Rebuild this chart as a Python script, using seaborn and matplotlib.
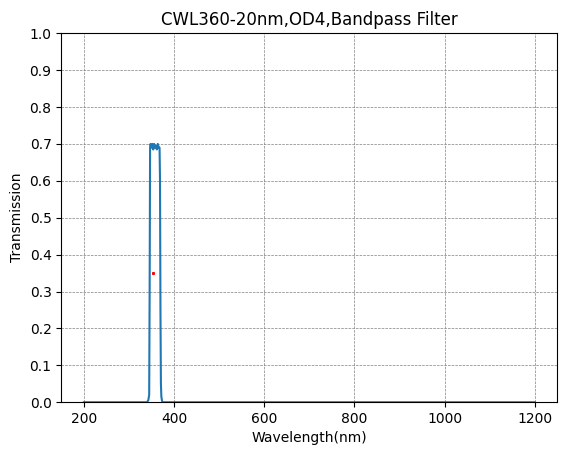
import matplotlib
matplotlib.use('Agg')
import matplotlib.pyplot as plt
import seaborn as sns

# spectrum
wavelength = [200, 300, 340, 343, 345, 346, 347, 348, 350, 352, 354, 356, 358, 360, 362, 364, 366, 368, 369, 370, 371, 372, 374, 380, 500, 800, 1200]
transmission = [0.0, 0.0, 0.0, 0.005, 0.02, 0.3, 0.69, 0.70, 0.69, 0.70, 0.685, 0.70, 0.69, 0.695, 0.685, 0.70, 0.69, 0.69, 0.60, 0.25, 0.05, 0.015, 0.0, 0.0, 0.0, 0.0, 0.0]
marker_x = [353]
marker_y = [0.35]

fig, ax = plt.subplots(figsize=(5.67, 4.55), dpi=100)
sns.lineplot(x=wavelength, y=transmission, ax=ax, color='#1f77b4', linewidth=1.5)
ax.plot(marker_x, marker_y, 's', color='red', markersize=1.2)
ax.set_ylim(0, 1)
ax.set_yticks([i / 10 for i in range(11)])
ax.set_xticks([200, 400, 600, 800, 1000, 1200])
ax.grid(True, linestyle='--', color='gray', linewidth=0.5)
ax.set_xlabel('Wavelength(nm)')
ax.set_ylabel('Transmission')
ax.set_title('CWL360-20nm,OD4,Bandpass Filter')
fig.subplots_adjust(left=0.108, right=0.983, top=0.927, bottom=0.116)
plt.savefig('out.png')
